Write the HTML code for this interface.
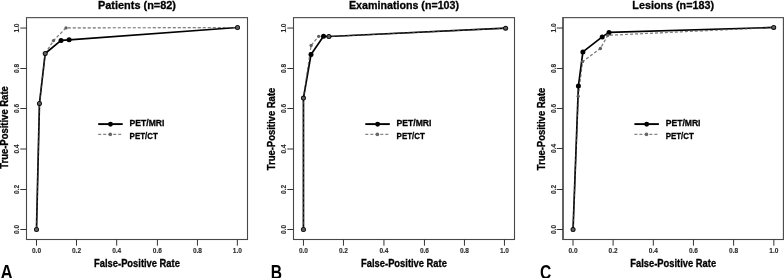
<!DOCTYPE html><html><head><meta charset="utf-8"><style>html,body{margin:0;padding:0;background:#fff;width:784px;height:278px;overflow:hidden}svg{display:block;will-change:transform;filter:grayscale(1)}text{font-family:"Liberation Sans", sans-serif}</style></head><body>
<svg width="784" height="278" viewBox="0 0 784 278">
<rect width="784" height="278" fill="#fff"/>
<rect x="26.5" y="17.65" width="221" height="221.85" fill="none" stroke="#474747" stroke-width="1.1"/>
<path d="M36.5 239.5V245.7M26.5 229.5H20.3M76.5 239.5V245.7M26.5 189.5H20.3M116.7 239.5V245.7M26.5 149H20.3M157.4 239.5V245.7M26.5 108.5H20.3M197.45 239.5V245.7M26.5 68.5H20.3M237.35 239.5V245.7M26.5 28.05H20.3" stroke="#333" stroke-width="1" fill="none"/>
<text x="36.5" y="253.0" font-size="7" font-weight="bold" text-anchor="middle" fill="#2a2a2a" stroke="#2a2a2a" stroke-width="0.12" textLength="9.1" lengthAdjust="spacingAndGlyphs">0.0</text>
<text transform="translate(19 229.5) rotate(-90)" font-size="7" font-weight="bold" text-anchor="middle" fill="#2a2a2a" stroke="#2a2a2a" stroke-width="0.12" textLength="9.1" lengthAdjust="spacingAndGlyphs">0.0</text>
<text x="76.5" y="253.0" font-size="7" font-weight="bold" text-anchor="middle" fill="#2a2a2a" stroke="#2a2a2a" stroke-width="0.12" textLength="9.1" lengthAdjust="spacingAndGlyphs">0.2</text>
<text transform="translate(19 189.5) rotate(-90)" font-size="7" font-weight="bold" text-anchor="middle" fill="#2a2a2a" stroke="#2a2a2a" stroke-width="0.12" textLength="9.1" lengthAdjust="spacingAndGlyphs">0.2</text>
<text x="116.7" y="253.0" font-size="7" font-weight="bold" text-anchor="middle" fill="#2a2a2a" stroke="#2a2a2a" stroke-width="0.12" textLength="9.1" lengthAdjust="spacingAndGlyphs">0.4</text>
<text transform="translate(19 149) rotate(-90)" font-size="7" font-weight="bold" text-anchor="middle" fill="#2a2a2a" stroke="#2a2a2a" stroke-width="0.12" textLength="9.1" lengthAdjust="spacingAndGlyphs">0.4</text>
<text x="157.4" y="253.0" font-size="7" font-weight="bold" text-anchor="middle" fill="#2a2a2a" stroke="#2a2a2a" stroke-width="0.12" textLength="9.1" lengthAdjust="spacingAndGlyphs">0.6</text>
<text transform="translate(19 108.5) rotate(-90)" font-size="7" font-weight="bold" text-anchor="middle" fill="#2a2a2a" stroke="#2a2a2a" stroke-width="0.12" textLength="9.1" lengthAdjust="spacingAndGlyphs">0.6</text>
<text x="197.45" y="253.0" font-size="7" font-weight="bold" text-anchor="middle" fill="#2a2a2a" stroke="#2a2a2a" stroke-width="0.12" textLength="9.1" lengthAdjust="spacingAndGlyphs">0.8</text>
<text transform="translate(19 68.5) rotate(-90)" font-size="7" font-weight="bold" text-anchor="middle" fill="#2a2a2a" stroke="#2a2a2a" stroke-width="0.12" textLength="9.1" lengthAdjust="spacingAndGlyphs">0.8</text>
<text x="237.35" y="253.0" font-size="7" font-weight="bold" text-anchor="middle" fill="#2a2a2a" stroke="#2a2a2a" stroke-width="0.12" textLength="9.1" lengthAdjust="spacingAndGlyphs">1.0</text>
<text transform="translate(19 28.05) rotate(-90)" font-size="7" font-weight="bold" text-anchor="middle" fill="#2a2a2a" stroke="#2a2a2a" stroke-width="0.12" textLength="9.1" lengthAdjust="spacingAndGlyphs">1.0</text>
<text x="137" y="9.15" font-size="11.6" font-weight="bold" text-anchor="middle" textLength="78" lengthAdjust="spacingAndGlyphs" stroke="#000" stroke-width="0.3">Patients (n=82)</text>
<text x="137" y="266.6" font-size="10.5" font-weight="bold" text-anchor="middle" textLength="85.8" lengthAdjust="spacingAndGlyphs" stroke="#000" stroke-width="0.3">False-Positive Rate</text>
<text transform="translate(7.6 127.5) rotate(-90)" font-size="10.2" font-weight="bold" text-anchor="middle" textLength="82.6" lengthAdjust="spacingAndGlyphs" stroke="#000" stroke-width="0.3">True-Positive Rate</text>
<text transform="translate(0.4 278.8) scale(0.87 1)" font-size="19.5" font-weight="bold" fill="#000">A</text>
<path d="M36.5 229.5 L39.45 103.45 L45.2 53.5 L53.5 40.6 L66 27.9 L237.5 27.5" stroke="#858585" stroke-width="1.15" fill="none" stroke-dasharray="3 2" stroke-dashoffset="-1.3"/>
<path d="M36.5 229.5 L39.45 103.45 L45.2 53.5 L61.05 40.4 L69.1 39.8 L237.5 27.5" stroke="#000" stroke-width="1.7" fill="none" stroke-linejoin="round"/>
<path d="M36.5 229.5 L39.45 103.45 L45.2 53.5 L53.5 40.6 L66 27.9 L237.5 27.5" stroke="#808080" stroke-width="1.1" fill="none" stroke-dasharray="3 2" stroke-dashoffset="-1.3" opacity="0.45"/>
<circle cx="36.5" cy="229.5" r="2.5" fill="#000"/>
<circle cx="39.45" cy="103.45" r="2.5" fill="#000"/>
<circle cx="45.2" cy="53.5" r="2.5" fill="#000"/>
<circle cx="61.05" cy="40.4" r="2.5" fill="#000"/>
<circle cx="69.1" cy="39.8" r="2.5" fill="#000"/>
<circle cx="237.5" cy="27.5" r="2.5" fill="#000"/>
<circle cx="36.5" cy="229.5" r="1.65" fill="#5e5e5e"/>
<circle cx="39.45" cy="103.45" r="1.65" fill="#5e5e5e"/>
<circle cx="45.2" cy="53.5" r="1.65" fill="#5e5e5e"/>
<circle cx="53.5" cy="40.6" r="1.65" fill="#5e5e5e"/>
<circle cx="66" cy="27.9" r="1.65" fill="#5e5e5e"/>
<circle cx="237.5" cy="27.5" r="1.65" fill="#5e5e5e"/>
<path d="M98.2 124.1H122.7" stroke="#000" stroke-width="1.9"/>
<circle cx="110.5" cy="124.2" r="2.45" fill="#000"/>
<path d="M98.2 134.4H122.7" stroke="#858585" stroke-width="1.15" stroke-dasharray="3 2"/>
<circle cx="110.3" cy="134.4" r="1.8" fill="#666"/>
<text x="129.6" y="126.4" font-size="9.5" font-weight="bold" textLength="34.8" lengthAdjust="spacingAndGlyphs" stroke="#000" stroke-width="0.3">PET/MRI</text>
<text x="129.6" y="138.5" font-size="9.5" font-weight="bold" textLength="28.2" lengthAdjust="spacingAndGlyphs" stroke="#000" stroke-width="0.3">PET/CT</text>
<rect x="293.5" y="17.65" width="221" height="221.85" fill="none" stroke="#474747" stroke-width="1.1"/>
<path d="M303.45 239.5V245.7M293.5 229.5H287.3M343.45 239.5V245.7M293.5 189.5H287.3M383.95 239.5V245.7M293.5 149H287.3M424.45 239.5V245.7M293.5 108.5H287.3M464.45 239.5V245.7M293.5 68.5H287.3M504.45 239.5V245.7M293.5 28.05H287.3" stroke="#333" stroke-width="1" fill="none"/>
<text x="303.45" y="253.0" font-size="7" font-weight="bold" text-anchor="middle" fill="#2a2a2a" stroke="#2a2a2a" stroke-width="0.12" textLength="9.1" lengthAdjust="spacingAndGlyphs">0.0</text>
<text transform="translate(286 229.5) rotate(-90)" font-size="7" font-weight="bold" text-anchor="middle" fill="#2a2a2a" stroke="#2a2a2a" stroke-width="0.12" textLength="9.1" lengthAdjust="spacingAndGlyphs">0.0</text>
<text x="343.45" y="253.0" font-size="7" font-weight="bold" text-anchor="middle" fill="#2a2a2a" stroke="#2a2a2a" stroke-width="0.12" textLength="9.1" lengthAdjust="spacingAndGlyphs">0.2</text>
<text transform="translate(286 189.5) rotate(-90)" font-size="7" font-weight="bold" text-anchor="middle" fill="#2a2a2a" stroke="#2a2a2a" stroke-width="0.12" textLength="9.1" lengthAdjust="spacingAndGlyphs">0.2</text>
<text x="383.95" y="253.0" font-size="7" font-weight="bold" text-anchor="middle" fill="#2a2a2a" stroke="#2a2a2a" stroke-width="0.12" textLength="9.1" lengthAdjust="spacingAndGlyphs">0.4</text>
<text transform="translate(286 149) rotate(-90)" font-size="7" font-weight="bold" text-anchor="middle" fill="#2a2a2a" stroke="#2a2a2a" stroke-width="0.12" textLength="9.1" lengthAdjust="spacingAndGlyphs">0.4</text>
<text x="424.45" y="253.0" font-size="7" font-weight="bold" text-anchor="middle" fill="#2a2a2a" stroke="#2a2a2a" stroke-width="0.12" textLength="9.1" lengthAdjust="spacingAndGlyphs">0.6</text>
<text transform="translate(286 108.5) rotate(-90)" font-size="7" font-weight="bold" text-anchor="middle" fill="#2a2a2a" stroke="#2a2a2a" stroke-width="0.12" textLength="9.1" lengthAdjust="spacingAndGlyphs">0.6</text>
<text x="464.45" y="253.0" font-size="7" font-weight="bold" text-anchor="middle" fill="#2a2a2a" stroke="#2a2a2a" stroke-width="0.12" textLength="9.1" lengthAdjust="spacingAndGlyphs">0.8</text>
<text transform="translate(286 68.5) rotate(-90)" font-size="7" font-weight="bold" text-anchor="middle" fill="#2a2a2a" stroke="#2a2a2a" stroke-width="0.12" textLength="9.1" lengthAdjust="spacingAndGlyphs">0.8</text>
<text x="504.45" y="253.0" font-size="7" font-weight="bold" text-anchor="middle" fill="#2a2a2a" stroke="#2a2a2a" stroke-width="0.12" textLength="9.1" lengthAdjust="spacingAndGlyphs">1.0</text>
<text transform="translate(286 28.05) rotate(-90)" font-size="7" font-weight="bold" text-anchor="middle" fill="#2a2a2a" stroke="#2a2a2a" stroke-width="0.12" textLength="9.1" lengthAdjust="spacingAndGlyphs">1.0</text>
<text x="404" y="9.15" font-size="11.6" font-weight="bold" text-anchor="middle" textLength="110" lengthAdjust="spacingAndGlyphs" stroke="#000" stroke-width="0.3">Examinations (n=103)</text>
<text x="404" y="266.6" font-size="10.5" font-weight="bold" text-anchor="middle" textLength="85.8" lengthAdjust="spacingAndGlyphs" stroke="#000" stroke-width="0.3">False-Positive Rate</text>
<text transform="translate(274.8 129) rotate(-90)" font-size="10.2" font-weight="bold" text-anchor="middle" textLength="82.6" lengthAdjust="spacingAndGlyphs" stroke="#000" stroke-width="0.3">True-Positive Rate</text>
<text transform="translate(270.8 278.8) scale(0.8 1)" font-size="19.5" font-weight="bold" fill="#000">B</text>
<path d="M303.45 229.5 L303.45 98.05 L311.1 45.5 L318.7 36.3 L328.9 36.5 L505.6 28.2" stroke="#858585" stroke-width="1.15" fill="none" stroke-dasharray="3 2" stroke-dashoffset="0"/>
<path d="M303.45 229.5 L303.45 98.05 L311 54.6 L323.5 36.3 L328.9 36.5 L505.6 28.2" stroke="#000" stroke-width="1.7" fill="none" stroke-linejoin="round"/>
<path d="M303.45 229.5 L303.45 98.05 L311.1 45.5 L318.7 36.3 L328.9 36.5 L505.6 28.2" stroke="#808080" stroke-width="1.1" fill="none" stroke-dasharray="3 2" stroke-dashoffset="0" opacity="0.45"/>
<circle cx="303.45" cy="229.5" r="2.5" fill="#000"/>
<circle cx="303.45" cy="98.05" r="2.5" fill="#000"/>
<circle cx="311" cy="54.6" r="2.5" fill="#000"/>
<circle cx="323.5" cy="36.3" r="2.5" fill="#000"/>
<circle cx="328.9" cy="36.5" r="2.5" fill="#000"/>
<circle cx="505.6" cy="28.2" r="2.5" fill="#000"/>
<circle cx="303.45" cy="229.5" r="1.65" fill="#5e5e5e"/>
<circle cx="303.45" cy="98.05" r="1.65" fill="#5e5e5e"/>
<circle cx="311.1" cy="45.5" r="1.65" fill="#5e5e5e"/>
<circle cx="318.7" cy="36.3" r="1.65" fill="#5e5e5e"/>
<circle cx="328.9" cy="36.5" r="1.65" fill="#5e5e5e"/>
<circle cx="505.6" cy="28.2" r="1.65" fill="#5e5e5e"/>
<path d="M365.3 124.1H389.8" stroke="#000" stroke-width="1.9"/>
<circle cx="377.6" cy="124.2" r="2.45" fill="#000"/>
<path d="M365.3 134.4H389.8" stroke="#858585" stroke-width="1.15" stroke-dasharray="3 2"/>
<circle cx="377.4" cy="134.4" r="1.8" fill="#666"/>
<text x="396.6" y="126.4" font-size="9.5" font-weight="bold" textLength="34.8" lengthAdjust="spacingAndGlyphs" stroke="#000" stroke-width="0.3">PET/MRI</text>
<text x="396.6" y="138.5" font-size="9.5" font-weight="bold" textLength="28.2" lengthAdjust="spacingAndGlyphs" stroke="#000" stroke-width="0.3">PET/CT</text>
<rect x="563" y="17.65" width="220.4" height="221.85" fill="none" stroke="#474747" stroke-width="1.1"/>
<path d="M563 17.1V240.05" stroke="#505050" stroke-width="1.5"/>
<path d="M573 239.5V245.7M563 229.5H556.8M613.1 239.5V245.7M563 189.5H556.8M653.3 239.5V245.7M563 148.5H556.8M693.45 239.5V245.7M563 108.5H556.8M733.6 239.5V245.7M563 68.5H556.8M773.85 239.5V245.7M563 28H556.8" stroke="#333" stroke-width="1" fill="none"/>
<text x="573" y="253.0" font-size="7" font-weight="bold" text-anchor="middle" fill="#2a2a2a" stroke="#2a2a2a" stroke-width="0.12" textLength="9.1" lengthAdjust="spacingAndGlyphs">0.0</text>
<text transform="translate(555.5 229.5) rotate(-90)" font-size="7" font-weight="bold" text-anchor="middle" fill="#2a2a2a" stroke="#2a2a2a" stroke-width="0.12" textLength="9.1" lengthAdjust="spacingAndGlyphs">0.0</text>
<text x="613.1" y="253.0" font-size="7" font-weight="bold" text-anchor="middle" fill="#2a2a2a" stroke="#2a2a2a" stroke-width="0.12" textLength="9.1" lengthAdjust="spacingAndGlyphs">0.2</text>
<text transform="translate(555.5 189.5) rotate(-90)" font-size="7" font-weight="bold" text-anchor="middle" fill="#2a2a2a" stroke="#2a2a2a" stroke-width="0.12" textLength="9.1" lengthAdjust="spacingAndGlyphs">0.2</text>
<text x="653.3" y="253.0" font-size="7" font-weight="bold" text-anchor="middle" fill="#2a2a2a" stroke="#2a2a2a" stroke-width="0.12" textLength="9.1" lengthAdjust="spacingAndGlyphs">0.4</text>
<text transform="translate(555.5 148.5) rotate(-90)" font-size="7" font-weight="bold" text-anchor="middle" fill="#2a2a2a" stroke="#2a2a2a" stroke-width="0.12" textLength="9.1" lengthAdjust="spacingAndGlyphs">0.4</text>
<text x="693.45" y="253.0" font-size="7" font-weight="bold" text-anchor="middle" fill="#2a2a2a" stroke="#2a2a2a" stroke-width="0.12" textLength="9.1" lengthAdjust="spacingAndGlyphs">0.6</text>
<text transform="translate(555.5 108.5) rotate(-90)" font-size="7" font-weight="bold" text-anchor="middle" fill="#2a2a2a" stroke="#2a2a2a" stroke-width="0.12" textLength="9.1" lengthAdjust="spacingAndGlyphs">0.6</text>
<text x="733.6" y="253.0" font-size="7" font-weight="bold" text-anchor="middle" fill="#2a2a2a" stroke="#2a2a2a" stroke-width="0.12" textLength="9.1" lengthAdjust="spacingAndGlyphs">0.8</text>
<text transform="translate(555.5 68.5) rotate(-90)" font-size="7" font-weight="bold" text-anchor="middle" fill="#2a2a2a" stroke="#2a2a2a" stroke-width="0.12" textLength="9.1" lengthAdjust="spacingAndGlyphs">0.8</text>
<text x="773.85" y="253.0" font-size="7" font-weight="bold" text-anchor="middle" fill="#2a2a2a" stroke="#2a2a2a" stroke-width="0.12" textLength="9.1" lengthAdjust="spacingAndGlyphs">1.0</text>
<text transform="translate(555.5 28) rotate(-90)" font-size="7" font-weight="bold" text-anchor="middle" fill="#2a2a2a" stroke="#2a2a2a" stroke-width="0.12" textLength="9.1" lengthAdjust="spacingAndGlyphs">1.0</text>
<text x="673.2" y="9.15" font-size="11.6" font-weight="bold" text-anchor="middle" textLength="81.7" lengthAdjust="spacingAndGlyphs" stroke="#000" stroke-width="0.3">Lesions (n=183)</text>
<text x="673.2" y="266.6" font-size="10.5" font-weight="bold" text-anchor="middle" textLength="85.8" lengthAdjust="spacingAndGlyphs" stroke="#000" stroke-width="0.3">False-Positive Rate</text>
<text transform="translate(544.8 129) rotate(-90)" font-size="10.2" font-weight="bold" text-anchor="middle" textLength="82.6" lengthAdjust="spacingAndGlyphs" stroke="#000" stroke-width="0.3">True-Positive Rate</text>
<text transform="translate(540.1 278.8) scale(0.8 1)" font-size="19.5" font-weight="bold" fill="#000">C</text>
<path d="M573.05 229.5 L578.2 96.2 L582.6 61.6 L600.4 48.5 L607.8 35.3 L773.7 27.45" stroke="#858585" stroke-width="1.15" fill="none" stroke-dasharray="3 2" stroke-dashoffset="2.3"/>
<path d="M573.05 229.5 L578.4 86 L582.9 51.9 L602.2 36.9 L609 32.4 L773.7 27.45" stroke="#000" stroke-width="1.7" fill="none" stroke-linejoin="round"/>
<path d="M573.05 229.5 L578.2 96.2 L582.6 61.6 L600.4 48.5 L607.8 35.3 L773.7 27.45" stroke="#808080" stroke-width="1.1" fill="none" stroke-dasharray="3 2" stroke-dashoffset="2.3" opacity="0.45"/>
<circle cx="573.05" cy="229.5" r="2.5" fill="#000"/>
<circle cx="578.4" cy="86" r="2.5" fill="#000"/>
<circle cx="582.9" cy="51.9" r="2.5" fill="#000"/>
<circle cx="602.2" cy="36.9" r="2.5" fill="#000"/>
<circle cx="609" cy="32.4" r="2.5" fill="#000"/>
<circle cx="773.7" cy="27.45" r="2.5" fill="#000"/>
<circle cx="573.05" cy="229.5" r="1.65" fill="#5e5e5e"/>
<circle cx="578.2" cy="96.2" r="1.65" fill="#5e5e5e"/>
<circle cx="582.6" cy="61.6" r="1.65" fill="#5e5e5e"/>
<circle cx="600.4" cy="48.5" r="1.65" fill="#5e5e5e"/>
<circle cx="607.8" cy="35.3" r="1.65" fill="#5e5e5e"/>
<circle cx="773.7" cy="27.45" r="1.65" fill="#5e5e5e"/>
<path d="M634.4 124.1H658.9" stroke="#000" stroke-width="1.9"/>
<circle cx="646.7" cy="124.2" r="2.45" fill="#000"/>
<path d="M634.4 134.4H658.9" stroke="#858585" stroke-width="1.15" stroke-dasharray="3 2"/>
<circle cx="646.5" cy="134.4" r="1.8" fill="#666"/>
<text x="665.7" y="126.4" font-size="9.5" font-weight="bold" textLength="34.8" lengthAdjust="spacingAndGlyphs" stroke="#000" stroke-width="0.3">PET/MRI</text>
<text x="665.7" y="138.5" font-size="9.5" font-weight="bold" textLength="28.2" lengthAdjust="spacingAndGlyphs" stroke="#000" stroke-width="0.3">PET/CT</text>
</svg></body></html>
